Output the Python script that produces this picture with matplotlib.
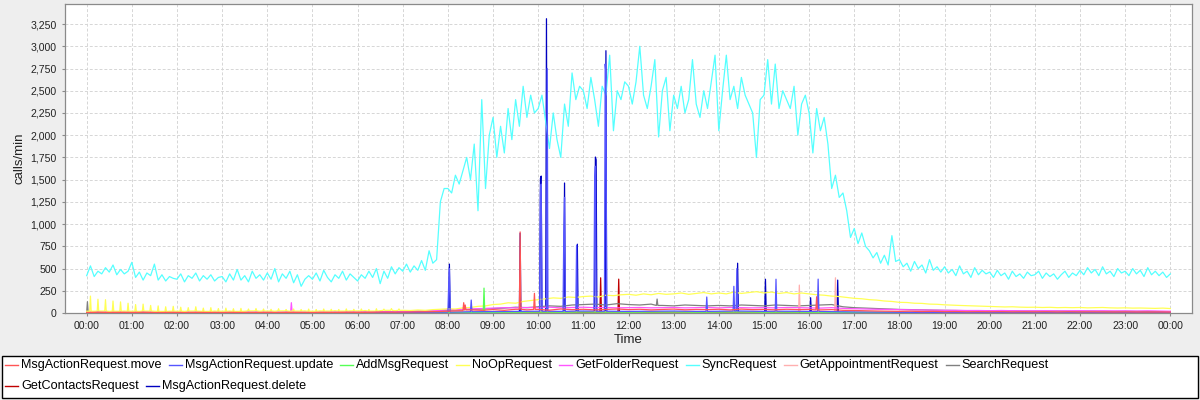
import matplotlib
matplotlib.use("Agg")
import matplotlib.pyplot as plt
from matplotlib.lines import Line2D
from matplotlib.patches import Rectangle
from matplotlib.ticker import FixedLocator, FuncFormatter
import numpy as np

# ---------------- data ----------------
series_names = ["MsgActionRequest.move", "MsgActionRequest.update", "AddMsgRequest",
                "NoOpRequest", "GetFolderRequest", "SyncRequest", "GetAppointmentRequest",
                "SearchRequest", "GetContactsRequest", "MsgActionRequest.delete"]
series_colors = ["#FF5555", "#5555FF", "#55FF55", "#FFFF55", "#FF55FF", "#55FFFF",
                 "#FFAFAF", "#808080", "#C00000", "#0000C0"]

hour_labels = ["00:00", "01:00", "02:00", "03:00", "04:00", "05:00", "06:00", "07:00",
               "08:00", "09:00", "10:00", "11:00", "12:00", "13:00", "14:00", "15:00",
               "16:00", "17:00", "18:00", "19:00", "20:00", "21:00", "22:00", "23:00", "00:00"]
y_ticks = [0, 250, 500, 750, 1000, 1250, 1500, 1750, 2000, 2250, 2500, 2750, 3000, 3250]

# SyncRequest, one value every 5 minutes (00:00 .. 24:00)
sync_step = 5
sync_vals = [
    420, 530, 410, 470, 440, 510, 460, 540, 430, 490, 440, 470,
    570, 400, 460, 370, 450, 420, 550, 370, 430, 360, 410, 390,
    380, 440, 350, 420, 390, 450, 360, 420, 380, 430, 360, 400,
    410, 350, 440, 370, 490, 370, 420, 350, 470, 390, 430, 370,
    450, 380, 500, 350, 440, 390, 470, 340, 430, 300, 380, 420,
    380, 450, 360, 480, 400, 350, 430, 390, 470, 370, 440, 400,
    360, 430, 390, 470, 400, 500, 330, 470, 390, 520, 440, 510,
    470, 550, 460, 530, 480, 590, 480, 700, 560, 600, 1250, 1400,
    1400, 1350, 1550, 1450, 1600, 1750, 1500, 1900, 1150, 2400, 1400, 2000,
    2200, 1750, 2100, 1800, 2300, 1950, 2400, 2100, 2550, 2200, 2450, 2250,
    2300, 2450, 2150, 1850, 2250, 1950, 1750, 2350, 2100, 2700, 2400, 2550,
    2500, 2300, 2650, 2400, 2100, 2550, 2450, 2900, 2050, 2500, 2400, 2600,
    2550, 2350, 2600, 3000, 2450, 2300, 2550, 2850, 1980, 2500, 2650, 2050,
    2450, 2300, 2550, 2250, 2400, 2850, 2350, 2200, 2500, 2300, 2600, 2900,
    2050, 2500, 2900, 2400, 2550, 2300, 2650, 2450, 2350, 2250, 1750, 2400,
    2450, 2850, 2350, 2800, 2300, 2500, 2400, 2300, 2550, 2000, 2350, 2450,
    2250, 1800, 2300, 2050, 2200, 1900, 1400, 1550, 1300, 1350, 1150, 850,
    950, 780, 900, 750, 700, 620, 680, 560, 650, 540, 870, 580,
    600, 520, 560, 470, 580, 500, 540, 450, 600, 480, 520, 460,
    520, 450, 490, 420, 530, 440, 470, 400, 510, 430, 480, 440,
    460, 400, 480, 420, 450, 380, 470, 410, 440, 390, 460, 420,
    430, 470, 390, 450, 410, 440, 380, 430, 470, 400, 450, 420,
    480, 430, 510, 450, 490, 420, 520, 440, 470, 410, 500, 450,
    470, 420, 500, 440, 480, 410, 510, 430, 470, 420, 460, 400,
    440,
]

# NoOpRequest, base every 10 minutes
noop_step = 10
noop_vals = [
    20, 20, 22, 18, 20, 22,
    20, 18, 22, 20, 18, 20,
    20, 18, 22, 20, 18, 22,
    20, 22, 18, 20, 24, 20,
    22, 20, 24, 20, 22, 24,
    20, 24, 22, 26, 22, 24,
    24, 28, 22, 26, 30, 26,
    30, 28, 34, 30, 38, 42,
    48, 45, 58, 62, 75, 80,
    95, 100, 115, 110, 130, 140,
    150, 160, 170, 165, 180, 175,
    185, 190, 180, 200, 195, 205,
    210, 200, 215, 205, 220, 210,
    215, 225, 210, 220, 230, 215,
    225, 215, 235, 220, 230, 240,
    225, 235, 220, 230, 215, 225,
    215, 205, 200, 190, 185, 175,
    165, 160, 150, 145, 135, 130,
    120, 118, 110, 108, 100, 98,
    92, 88, 85, 82, 78, 76,
    72, 70, 68, 70, 66, 64,
    65, 62, 64, 60, 62, 60,
    62, 58, 60, 62, 58, 56,
    58, 55, 56, 54, 52, 55,
    50,
]
noop_spikes = [(5, 190), (15, 155), (25, 150), (35, 135), (45, 125), (55, 110), (65, 95),
               (75, 100), (85, 85), (95, 80), (105, 70), (115, 75), (125, 65), (135, 60),
               (145, 70), (155, 55), (165, 60), (175, 50), (185, 55), (195, 48), (205, 52),
               (215, 45), (225, 50), (235, 45), (245, 42), (255, 48), (265, 40), (275, 45),
               (285, 40), (295, 44), (305, 40), (315, 45), (325, 42), (335, 40), (345, 46),
               (355, 42), (365, 45), (375, 40), (385, 48), (395, 44), (405, 50), (415, 46)]

# SearchRequest, every 15 minutes
search_step = 15
search_vals = [8, 10, 8, 10, 8, 10, 8, 10, 8, 10, 8, 10, 8, 10, 8, 10,
               10, 8, 10, 8, 10, 8, 10, 12, 10, 12, 14, 12, 16, 18, 22, 25,
               30, 35, 40, 45, 50, 55, 65, 60, 70, 80, 75, 90, 95, 100, 90, 105,
               95, 90, 100, 85, 80, 90, 85, 80, 85, 80, 90, 85, 80, 90, 85, 80,
               85, 90, 95, 70, 60, 55, 50, 45, 40, 38, 35, 32, 30, 28, 26, 25,
               24, 22, 24, 22, 22, 20, 22, 20, 20, 22, 20, 18, 20, 18, 18, 16, 15]
search_spikes = [(1, 127), (758, 157)]

# GetFolderRequest, every 15 minutes
folder_step = 15
folder_vals = [10, 12, 10, 12, 10, 12, 10, 12, 10, 12, 10, 12, 10, 12, 10, 12,
               12, 10, 12, 10, 12, 10, 12, 14, 12, 14, 16, 14, 16, 20, 22, 28,
               35, 40, 45, 50, 55, 60, 58, 62, 60, 65, 58, 62, 65, 60, 62, 58,
               60, 62, 58, 60, 62, 58, 60, 62, 58, 62, 60, 58, 60, 58, 62, 60,
               58, 55, 60, 52, 48, 45, 42, 40, 38, 36, 34, 32, 30, 30, 28, 28,
               26, 28, 26, 25, 25, 26, 24, 25, 26, 24, 25, 24, 24, 22, 24, 22, 20]
folder_spikes = [(272, 116)]

# MsgActionRequest.move, every 15 minutes
move_step = 15
move_vals = [5, 8, 6, 7, 6, 8, 5, 7, 6, 5, 7, 6, 5, 7, 6, 5,
             6, 5, 7, 6, 5, 7, 6, 8, 7, 8, 10, 9, 10, 12, 14, 16,
             20, 25, 35, 30, 38, 30, 42, 35, 40, 32, 45, 38, 42, 35, 40, 45,
             38, 42, 35, 40, 44, 36, 40, 38, 42, 35, 44, 38, 40, 36, 42, 38,
             40, 35, 38, 30, 28, 25, 22, 20, 18, 20, 16, 18, 15, 16, 14, 15,
             14, 15, 13, 14, 13, 14, 12, 14, 12, 13, 12, 11, 12, 11, 10, 11, 10]
move_spikes = [(501, 116), (503, 90), (576, 912), (595, 221), (970, 183)]

# smaller series, every 30 minutes
small_step = 30
update_vals = [3, 4, 3, 4, 3, 3, 3, 4, 3, 3, 3, 4, 4, 5, 6, 8, 10, 14, 16, 18, 20, 18, 22, 20,
               18, 20, 22, 18, 20, 22, 18, 20, 18, 15, 12, 10, 8, 7, 6, 6, 5, 6, 5, 5, 5, 4, 4, 4, 4]
update_spikes = [(481, 300), (482, 500), (511, 146), (603, 1380), (604, 1450), (612, 2750),
                 (634, 900), (635, 1300), (651, 760), (675, 1500), (676, 1650), (689, 2800),
                 (690, 2700), (824, 180), (860, 300), (864, 500), (916, 380), (972, 381)]
addmsg_vals = [2, 2, 2, 2, 2, 2, 2, 2, 2, 2, 2, 2, 2, 3, 3, 4, 5, 6, 8, 9, 10, 9, 11, 10,
               9, 10, 11, 9, 10, 11, 9, 10, 9, 8, 7, 6, 5, 4, 4, 3, 3, 3, 3, 3, 3, 2, 2, 2, 2]
addmsg_spikes = [(528, 280)]
appt_vals = [2, 2, 2, 2, 2, 2, 2, 2, 2, 2, 2, 2, 3, 3, 4, 5, 6, 8, 10, 12, 14, 12, 15, 13,
             12, 14, 13, 12, 14, 13, 12, 14, 12, 10, 8, 7, 6, 5, 4, 4, 4, 3, 3, 3, 3, 3, 3, 3, 3]
appt_spikes = [(947, 314), (995, 396)]
contacts_vals = [1, 1, 1, 1, 1, 1, 1, 1, 1, 1, 1, 1, 1, 2, 2, 2, 3, 4, 5, 5, 6, 5, 6, 5,
                 5, 6, 5, 5, 6, 5, 5, 6, 5, 4, 3, 3, 2, 2, 2, 2, 2, 2, 2, 1, 1, 1, 1, 1, 1]
contacts_spikes = [(683, 396), (707, 381)]
delete_vals = [1, 1, 1, 1, 1, 1, 1, 1, 1, 1, 1, 1, 1, 1, 2, 2, 3, 3, 4, 4, 5, 4, 5, 4,
               4, 5, 4, 4, 5, 4, 4, 5, 4, 3, 3, 2, 2, 2, 1, 1, 1, 1, 1, 1, 1, 1, 1, 1, 1]
delete_spikes = [(482, 550), (576, 897), (603, 1514), (604, 1540), (611, 3310), (635, 1462),
                 (652, 774), (676, 1754), (677, 1724), (690, 2950), (865, 560), (902, 380),
                 (962, 172), (998, 370)]


def build(step, vals, spikes=()):
    sp = dict(spikes)
    pts = {}
    for k, v in enumerate(vals):
        t = k * step
        if all(abs(t - s) > 1 for s in sp):
            pts[t] = v
    for s, v in sp.items():
        pts[s] = v
        floor = vals[min(len(vals) - 1, int(round(s / step)))]
        for n in (s - 1, s + 1):
            if n not in sp:
                pts[n] = floor
    ks = sorted(pts)
    return np.array(ks, dtype=float), np.array([pts[k] for k in ks], dtype=float)


data = [
    build(move_step, move_vals, move_spikes),
    build(small_step, update_vals, update_spikes),
    build(small_step, addmsg_vals, addmsg_spikes),
    build(noop_step, noop_vals, noop_spikes),
    build(folder_step, folder_vals, folder_spikes),
    build(sync_step, sync_vals),
    build(small_step, appt_vals, appt_spikes),
    build(search_step, search_vals, search_spikes),
    build(small_step, contacts_vals, contacts_spikes),
    build(small_step, delete_vals, delete_spikes),
]

# ---------------- figure ----------------
W, H = 1200, 400
fig = plt.figure(figsize=(12, 4), dpi=100)
fig.patch.set_facecolor("#EEEEEE")
ax = fig.add_axes([65 / W, 1 - 313 / H, (1192 - 65) / W, (313 - 4) / H])
ax.set_facecolor("white")

for i, (t, v) in enumerate(data):
    ax.plot(t, v, color=series_colors[i], lw=0.9, zorder=20 - i)

span = 24 * 60
ax.set_xlim(-0.02 * span, span * 1.02)
ymax = max(v.max() for _, v in data)
ax.set_ylim(0, ymax * 1.05)

ax.xaxis.set_major_locator(FixedLocator([k * 60 for k in range(len(hour_labels))]))
ax.set_xticklabels(hour_labels)
ax.yaxis.set_major_locator(FixedLocator(y_ticks))
ax.yaxis.set_major_formatter(FuncFormatter(lambda v, p: f"{int(v):,}"))

ax.grid(True, color="#D6D6D6", lw=0.7, linestyle=(0, (3, 2)))
ax.set_axisbelow(True)
for s in ax.spines.values():
    s.set_color("#8A8A8A")
    s.set_linewidth(0.9)
ax.tick_params(length=2, width=0.8, color="#8A8A8A", labelsize=7.6,
               labelcolor="#222222", pad=4)
for lab in ax.get_xticklabels() + ax.get_yticklabels():
    lab.set_family("Liberation Sans")

fig.text(628 / W, 1 - 340 / H, "Time", ha="center", va="center", fontsize=9.5,
         family="Liberation Sans", color="#222222")
fig.text(19.5 / W, 1 - 158 / H, "calls/min", ha="center", va="center", rotation=90,
         fontsize=9.5, family="Liberation Sans", color="#222222")

# legend (flow layout like the original)
fig.add_artist(Rectangle((2 / W, 1 - 398 / H), 1196 / W, 42 / H, transform=fig.transFigure,
                         facecolor="white", edgecolor="black", lw=1.0, zorder=1))
rend = fig.canvas.get_renderer()
rows = [[0, 1, 2, 3, 4, 5, 6, 7], [8, 9]]
row_y = [365, 386]
for r, idxs in enumerate(rows):
    x = 5
    y = 1 - row_y[r] / H
    for i in idxs:
        fig.add_artist(Line2D([x / W, (x + 13) / W], [y, y], transform=fig.transFigure,
                              color=series_colors[i], lw=1.0, zorder=2))
        txt = fig.text((x + 16) / W, y, series_names[i], ha="left", va="center",
                       fontsize=9.1, family="Liberation Sans", color="black", zorder=3)
        bb = txt.get_window_extent(rend)
        x = bb.x1 + 7

fig.savefig("out.png", dpi=100, facecolor=fig.get_facecolor())
